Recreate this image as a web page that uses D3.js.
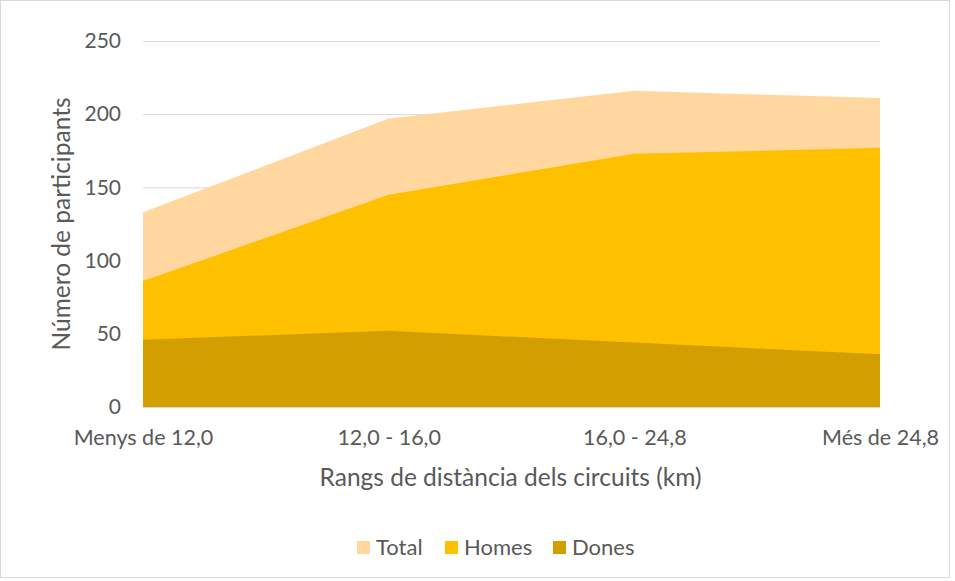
<!DOCTYPE html>
<html>
<head>
<meta charset="utf-8">
<script src="https://cdn.jsdelivr.net/npm/d3@7"></script>
<style>
  html, body { margin: 0; padding: 0; background: #fff; }
  svg { display: block; font-family: Lato, "Open Sans", sans-serif; }
</style>
</head>
<body>
<svg id="chart" width="955" height="581"></svg>
<script>
// Distance ranges of the circuits
const categories = ["Menys de 12,0", "12,0 - 16,0", "16,0 - 24,8", "Més de 24,8"];
// Participants per range
const total = [133, 197, 216, 211];
const homes = [86, 145, 173, 177];
const dones = [46, 52, 44, 36];
const yTicks = [0, 50, 100, 150, 200, 250];

const seriesNames = ["Total", "Homes", "Dones"];
const seriesValues = [total, homes, dones];
const colors = ["#FFD79F", "#FFC000", "#D39F00"];

const svg = d3.select("#chart");
const margin = { left: 143, right: 75, top: 41, bottom: 174 };
const W = 955, H = 581;

// outer chart frame
svg.append("rect")
  .attr("x", 0.5).attr("y", 0.5)
  .attr("width", W - 6).attr("height", H - 4)
  .attr("fill", "#fff").attr("stroke", "#d9d9d9");

const x = d3.scalePoint().domain(categories).range([margin.left, W - margin.right]);
const y = d3.scaleLinear().domain([0, 250]).range([H - margin.bottom, margin.top]);

// horizontal gridlines with value labels
const yAxis = d3.axisLeft(y).tickValues(yTicks).tickSize(-(W - margin.right - margin.left)).tickPadding(22);
const gy = svg.append("g").attr("transform", `translate(${margin.left},0)`).call(yAxis);
gy.select(".domain").remove();
gy.selectAll(".tick line").attr("stroke", "#d9d9d9").attr("stroke-width", 1);
gy.selectAll(".tick text").attr("fill", "#595959").style("font-size", "21px").style("font-family", "Lato, sans-serif");

// overlapping areas, each from zero
const area = d3.area()
  .x((d, i) => x(categories[i]))
  .y0(y(0))
  .y1(d => y(d));

svg.append("g").selectAll("path")
  .data(seriesValues)
  .join("path")
  .attr("d", d => area(d))
  .attr("fill", (d, i) => colors[i]);

// category labels
const xAxis = d3.axisBottom(x).tickSize(0).tickPadding(23);
const gx = svg.append("g").attr("transform", `translate(0,${y(0)})`).call(xAxis);
gx.select(".domain").attr("stroke", "#d9d9d9");
gx.selectAll(".tick text").attr("fill", "#595959").style("font-size", "21.5px").style("font-family", "Lato, sans-serif");

// axis titles
svg.append("text")
  .attr("x", (margin.left + W - margin.right) / 2 - 1)
  .attr("y", 486)
  .attr("text-anchor", "middle")
  .attr("fill", "#595959")
  .style("font-size", "24.5px")
  .text("Rangs de distància dels circuits (km)");

svg.append("text")
  .attr("transform", `translate(70,${(y(0) + y(250)) / 2}) rotate(-90)`)
  .attr("text-anchor", "middle")
  .attr("fill", "#595959")
  .style("font-size", "24.5px")
  .text("Número de participants");

// legend
const legendX = [357, 445, 553];
const lg = svg.append("g").selectAll("g")
  .data(seriesNames)
  .join("g")
  .attr("transform", (d, i) => `translate(${legendX[i]},541)`);
lg.append("rect").attr("width", 13).attr("height", 13).attr("fill", (d, i) => colors[i]);
lg.append("text")
  .attr("x", 19).attr("y", 14)
  .attr("fill", "#595959")
  .style("font-size", "22px")
  .text(d => d);
</script>
</body>
</html>
